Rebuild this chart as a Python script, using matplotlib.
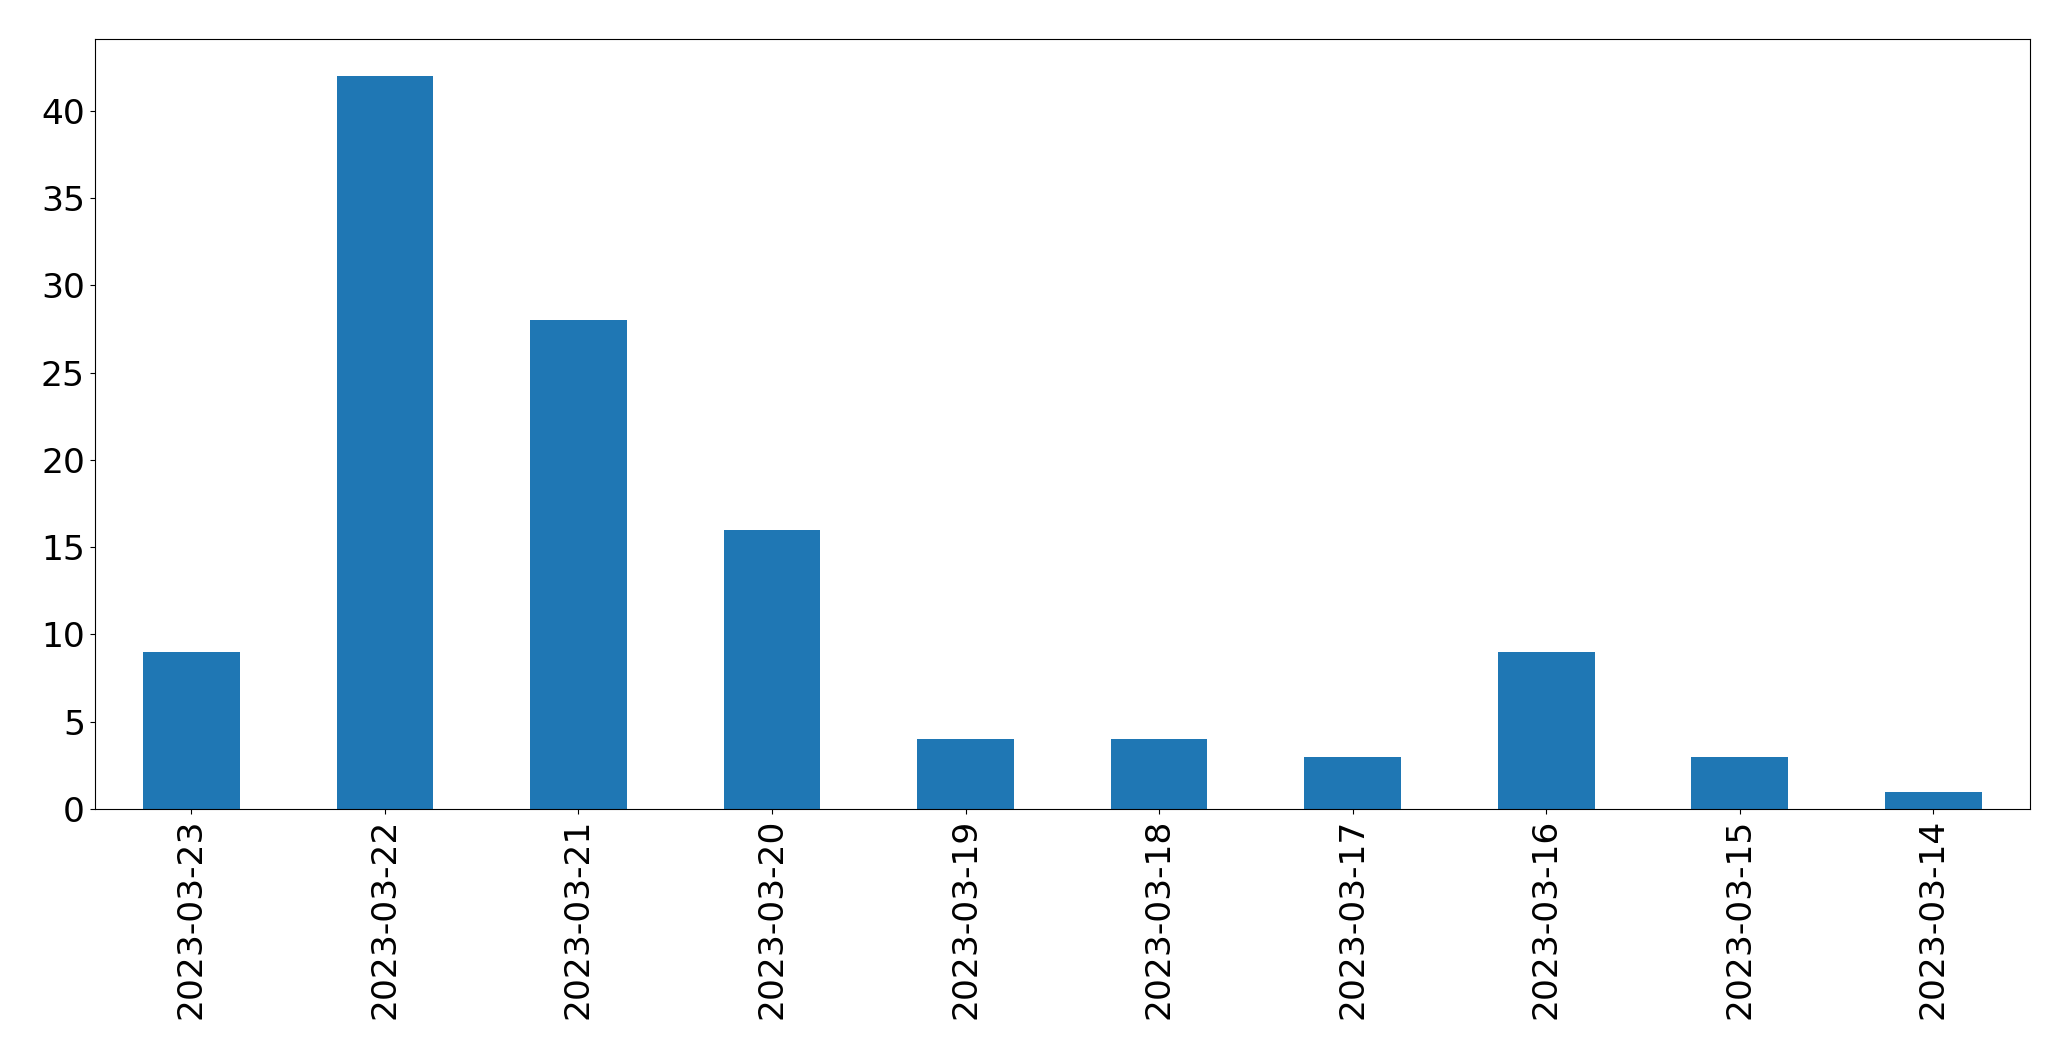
import matplotlib
matplotlib.use("Agg")
import matplotlib.pyplot as plt

dates = ["2023-03-23", "2023-03-22", "2023-03-21", "2023-03-20", "2023-03-19",
         "2023-03-18", "2023-03-17", "2023-03-16", "2023-03-15", "2023-03-14"]
counts = [9, 42, 28, 16, 4, 4, 3, 9, 3, 1]

fig = plt.figure(figsize=(20.71, 10.61), dpi=100)
ax = fig.add_axes([0.0457, 0.2375, 0.9345, 0.7255])
x = list(range(len(dates)))
ax.bar(x, counts, width=0.5, color="#1f77b4")
ax.set_xlim(-0.5, len(dates) - 0.5)
ax.set_ylim(0, max(counts) * 1.05)
ax.set_xticks(x)
ax.set_xticklabels(dates, rotation=90)
ax.tick_params(labelsize=24.8)
fig.savefig("out.png", dpi=100)
